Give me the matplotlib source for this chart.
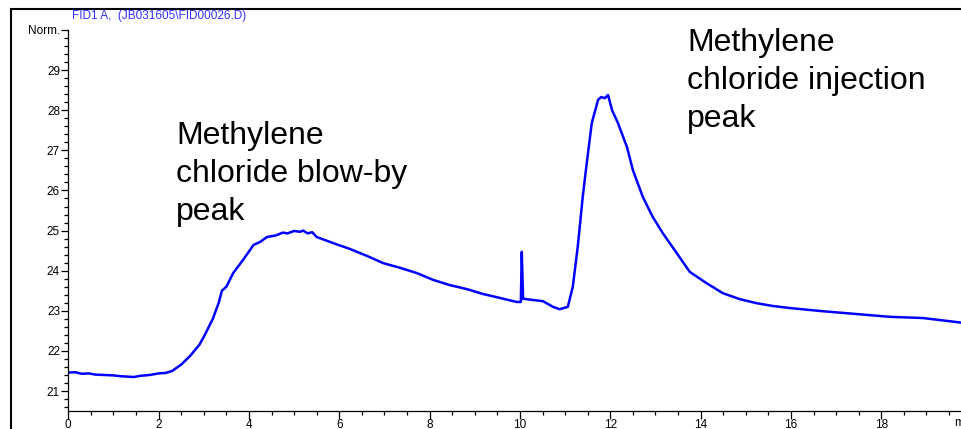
import matplotlib
matplotlib.use("Agg")
import matplotlib.pyplot as plt
from matplotlib.patches import Rectangle
from matplotlib.ticker import MultipleLocator

plt.rcParams['font.family'] = ['Liberation Sans', 'DejaVu Sans']

title = "FID1 A,  (JB031605\\FID00026.D)"
time_min = [0, 0.15, 0.3, 0.45, 0.6, 0.8, 1.0, 1.15, 1.3, 1.45, 1.6, 1.8, 2.0, 2.15, 2.3,
            2.5, 2.7, 2.9, 3.0, 3.2, 3.33, 3.4, 3.5, 3.65, 3.87, 4.1, 4.25, 4.4, 4.6, 4.75,
            4.85, 5.0, 5.13, 5.2, 5.3, 5.4, 5.5, 5.86, 6.24, 6.61, 6.97, 7.35, 7.72, 8.08,
            8.45, 8.83, 9.18, 9.56, 9.93, 10.02, 10.04, 10.07, 10.29, 10.51, 10.73, 10.88,
            11.06, 11.17, 11.28, 11.39, 11.48, 11.59, 11.73, 11.8, 11.88, 11.95, 12.04,
            12.17, 12.37, 12.5, 12.72, 12.94, 13.16, 13.47, 13.76, 14.13, 14.49, 14.87,
            15.24, 15.6, 15.97, 16.7, 17.45, 18.19, 18.92, 19.67, 19.8]
signal = [21.46, 21.47, 21.43, 21.44, 21.41, 21.40, 21.39, 21.37, 21.36, 21.35, 21.38,
          21.40, 21.44, 21.45, 21.50, 21.66, 21.88, 22.15, 22.35, 22.8, 23.2, 23.5, 23.6,
          23.94, 24.27, 24.64, 24.72, 24.84, 24.88, 24.95, 24.93, 24.99, 24.97, 25.00,
          24.93, 24.96, 24.84, 24.69, 24.54, 24.37, 24.19, 24.07, 23.94, 23.77, 23.64,
          23.54, 23.42, 23.32, 23.22, 23.22, 24.47, 23.3, 23.27, 23.24, 23.10, 23.04,
          23.10, 23.6, 24.6, 25.84, 26.69, 27.68, 28.26, 28.33, 28.30, 28.38, 28.0,
          27.68, 27.08, 26.51, 25.84, 25.34, 24.94, 24.44, 23.97, 23.69, 23.44, 23.29,
          23.19, 23.12, 23.07, 22.99, 22.92, 22.85, 22.82, 22.72, 22.70]
y_ticks = [21, 22, 23, 24, 25, 26, 27, 28, 29, 30]
y_tick_labels = ['21', '22', '23', '24', '25', '26', '27', '28', '29', 'Norm.']
x_ticks = [0, 2, 4, 6, 8, 10, 12, 14, 16, 18]
annot_left = "Methylene\nchloride blow-by\npeak"
annot_right = "Methylene\nchloride injection\npeak"

W, H = 961, 429
fig = plt.figure(figsize=(W / 100, H / 100), dpi=100)

# outer frame
fig.patches.append(Rectangle((11 / W, -0.1), 1.2, (H - 9) / H + 0.1, transform=fig.transFigure,
                             fill=False, edgecolor='black', linewidth=1.5, zorder=0))

x0, x1 = 68.3, 971.6
yb, yt = 410.7, 30.0
ax = fig.add_axes([x0 / W, (H - yb) / H, (x1 - x0) / W, (yb - yt) / H])
ax.set_facecolor('none')
ax.plot(time_min, signal, color='#0000FF', linewidth=1.8)
ax.set_xlim(0, 20)
ax.set_ylim(20.51, 30.0)
for s in ['top', 'right']:
    ax.spines[s].set_visible(False)
for s in ['left', 'bottom']:
    ax.spines[s].set_linewidth(0.9)
ax.set_xticks(x_ticks)
ax.set_xticklabels([str(v) for v in x_ticks])
ax.set_yticks(y_ticks)
ax.set_yticklabels(y_tick_labels)
ax.xaxis.set_minor_locator(MultipleLocator(0.5))
ax.yaxis.set_minor_locator(MultipleLocator(0.2))
ax.tick_params(which='major', direction='out', length=5, width=0.9, labelsize=8.5, pad=1)
ax.tick_params(axis='x', which='major', length=5.5, pad=0.5)
ax.tick_params(which='minor', direction='out', length=3, width=0.9)
ax.text(954 / W, (H - 423) / H, "min", transform=fig.transFigure, fontsize=8.5,
        ha='left', va='center')

fig.text(72 / W, (H - 16) / H, title, color='#3030FF', fontsize=8.5, ha='left', va='center')
fig.text(176 / W, (H - 121) / H, annot_left, fontsize=23, ha='left', va='top', linespacing=1.34)
fig.text(687 / W, (H - 28) / H, annot_right, fontsize=23, ha='left', va='top', linespacing=1.34)

fig.savefig('out.png', dpi=100)
